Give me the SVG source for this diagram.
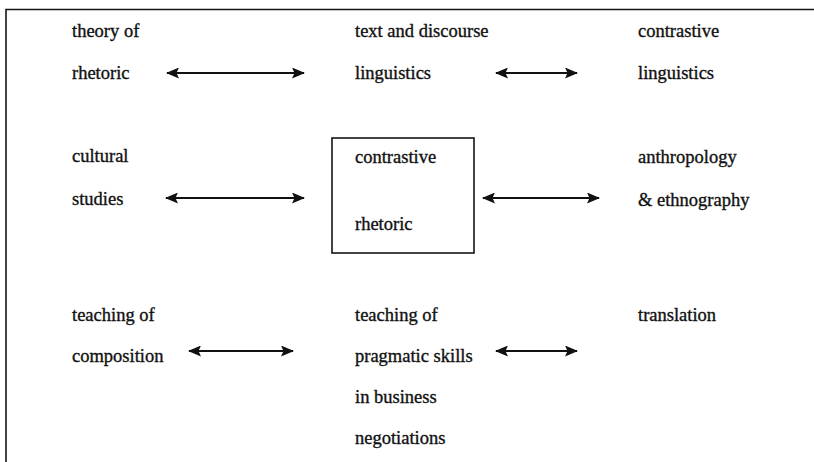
<svg xmlns="http://www.w3.org/2000/svg" width="814" height="462" viewBox="0 0 814 462" font-family="'Liberation Serif', 'DejaVu Serif', serif">
<style>
text{font-family:"Liberation Serif","DejaVu Serif",serif;font-size:18.5px;fill:#111;stroke:#111;stroke-width:0.35}
.ln{stroke:#151515;stroke-width:1.6;fill:none}
.ar{stroke:#111;stroke-width:1.9;fill:none;marker-start:url(#ah);marker-end:url(#ah)}
</style>
<defs>
<marker id="ah" viewBox="0 0 13 11" refX="12" refY="5.5" markerWidth="13" markerHeight="11" markerUnits="userSpaceOnUse" orient="auto-start-reverse">
<path d="M0,0 L13,5.5 L0,11 L2.5,5.5 Z" fill="#111"/>
</marker>
</defs>
<rect width="814" height="462" fill="#ffffff"/>
<path class="ln" d="M6,462 V9.5 H814"/>
<g id="theory-of-rhetoric"><text x="72" y="37">theory of</text><text x="72" y="79">rhetoric</text></g>
<g id="text-discourse"><text x="355" y="37">text and discourse</text><text x="355" y="79">linguistics</text></g>
<g id="contrastive-linguistics"><text x="638" y="37">contrastive</text><text x="638" y="79">linguistics</text></g>
<g id="cultural-studies"><text x="72" y="162">cultural</text><text x="72" y="205">studies</text></g>
<g id="contrastive-rhetoric"><rect class="ln" x="332" y="138" width="142" height="115"/><text x="355" y="163">contrastive</text><text x="355" y="230">rhetoric</text></g>
<g id="anthropology"><text x="638" y="163">anthropology</text><text x="638" y="206">&amp; ethnography</text></g>
<g id="teaching-composition"><text x="72" y="321">teaching of</text><text x="72" y="362">composition</text></g>
<g id="teaching-pragmatic"><text x="355" y="321">teaching of</text><text x="355" y="362">pragmatic skills</text><text x="355" y="403">in business</text><text x="355" y="444">negotiations</text></g>
<g id="translation"><text x="638" y="321">translation</text></g>
<g id="connectors">
<line class="ar" x1="167" y1="73" x2="304" y2="73"/>
<line class="ar" x1="496" y1="73" x2="577" y2="73"/>
<line class="ar" x1="166" y1="198" x2="304" y2="198"/>
<line class="ar" x1="483" y1="198" x2="599" y2="198"/>
<line class="ar" x1="189" y1="351" x2="293" y2="351"/>
<line class="ar" x1="496" y1="351" x2="577" y2="351"/>
</g>
</svg>
